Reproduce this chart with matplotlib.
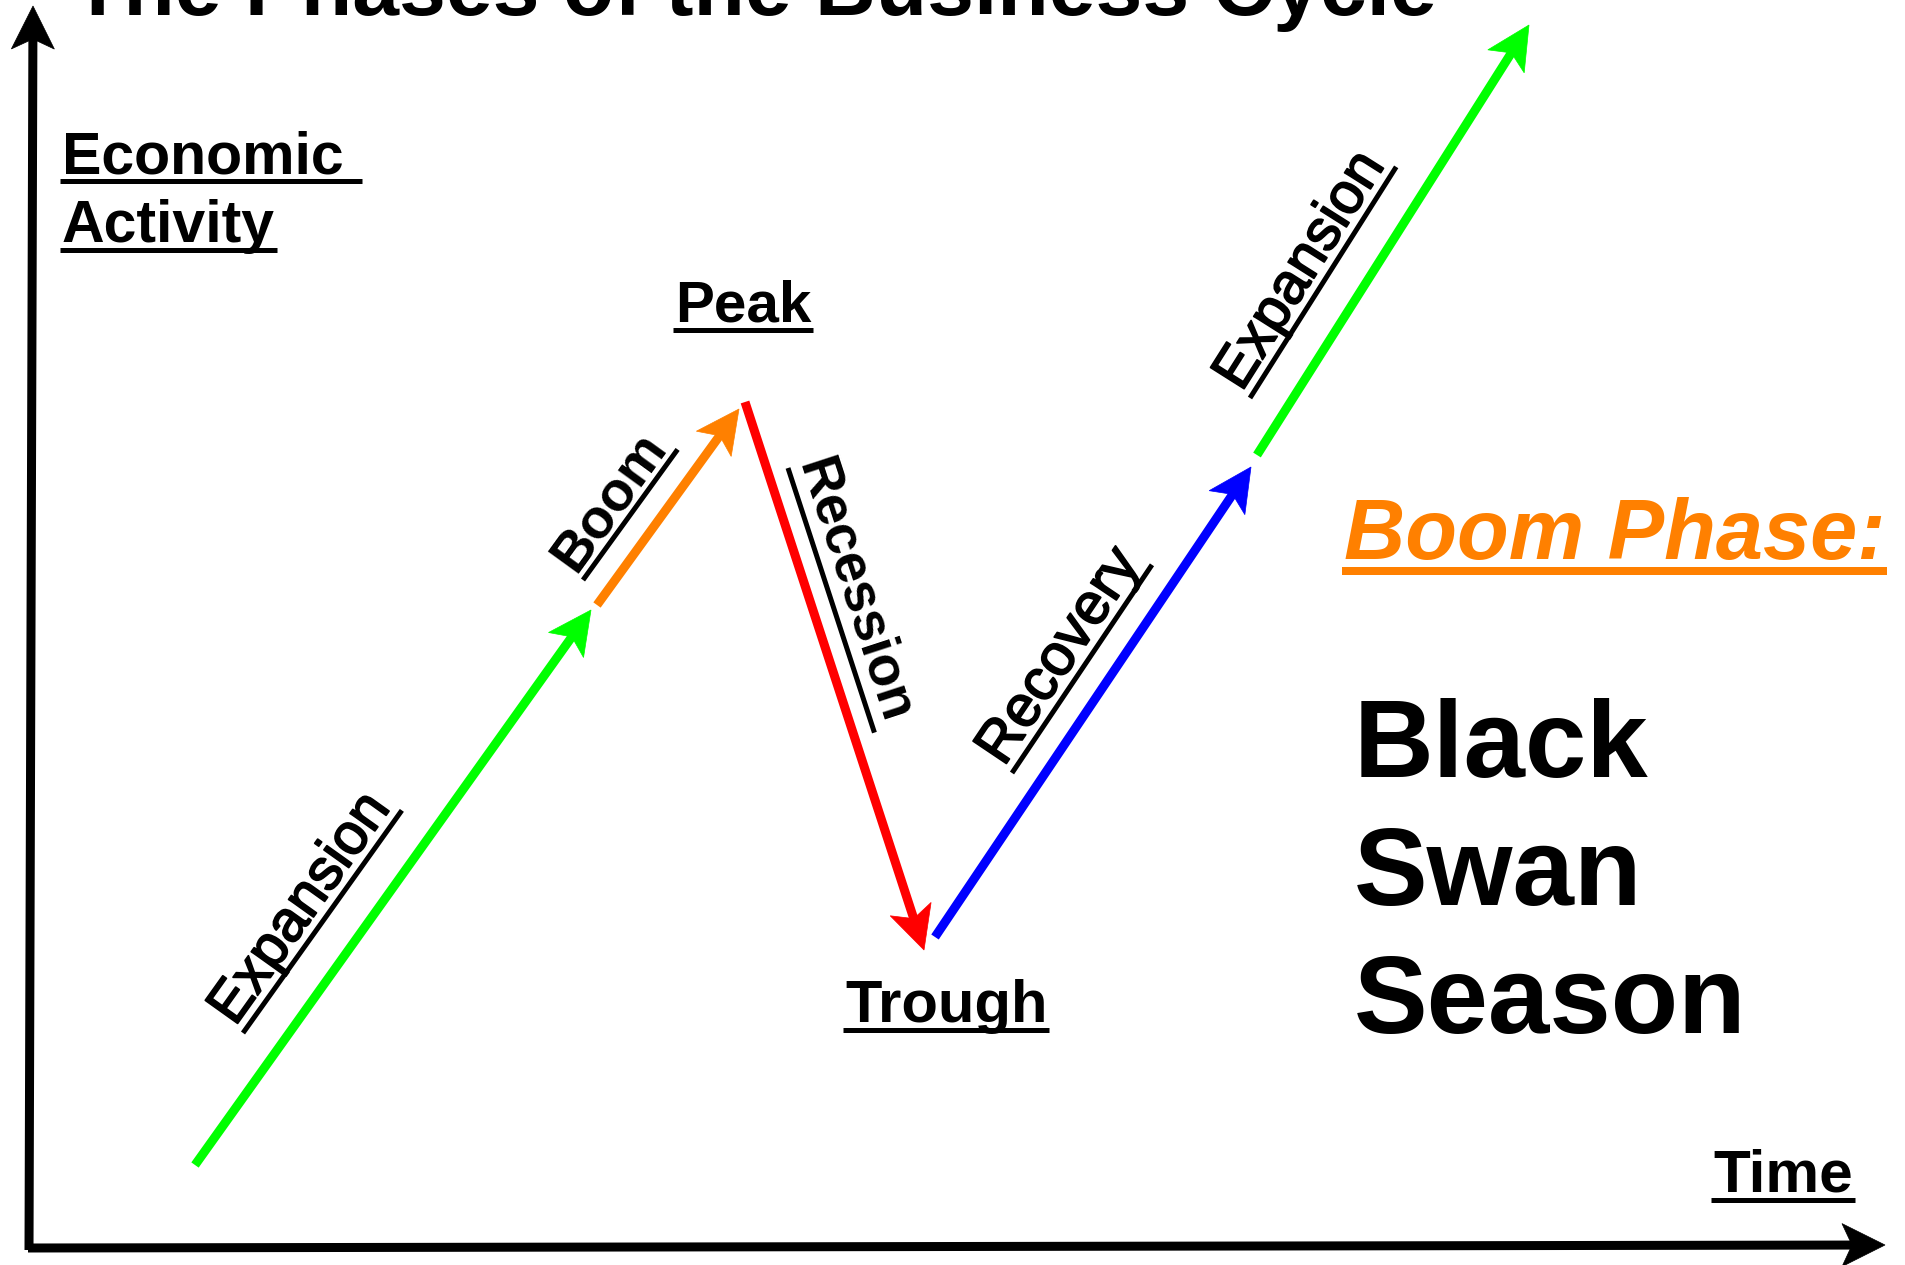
import numpy as np
import matplotlib
matplotlib.use("Agg")
import matplotlib.pyplot as plt
from matplotlib.patches import Polygon
import matplotlib.patheffects as pe

# ---------------- data ----------------
W, H = 1906, 1265

phase_names = ["Expansion", "Boom", "Recession", "Recovery", "Expansion"]
phase_colors = ["#00FF00", "#FF8000", "#FF0000", "#0000FF", "#00FF00"]
phase_x0 = [195, 597, 745, 935, 1257]
phase_y0 = [1165, 605, 402, 937, 455]
phase_x1 = [591, 739, 924, 1251, 1529]
phase_y1 = [610, 409, 950, 467, 25]

# label anchor (start of underline) for each phase
label_x = [243, 583, 788, 1012, 1250]
label_y = [1033, 580, 468, 773, 398]
label_weight = ["normal", "bold", "bold", "normal", "normal"]
label_size = [41.5, 40, 39.5, 42, 41.5]

axis_x0 = [29, 28]
axis_y0 = [1250, 1248]
axis_x1 = [33, 1885]
axis_y1 = [6, 1245]

title = "The Phases of the Business Cycle"
y_label = ["Economic ", "Activity"]
x_label = "Time"
peak_label = "Peak"
trough_label = "Trough"
phase_title = "Boom Phase:"
side_note = ["Black", "Swan", "Season"]

FONT = "Liberation Sans"
PX = 0.72  # points per pixel at dpi 100

fig = plt.figure(figsize=(W / 100, H / 100), dpi=100)
ax = fig.add_axes([0, 0, 1, 1])
ax.set_xlim(0, W)
ax.set_ylim(H, 0)
ax.axis("off")


def arrow(x0, y0, x1, y1, color, lw_px=9, L=43, Wh=43, notch=10):
    p0 = np.array([x0, y0], float)
    p1 = np.array([x1, y1], float)
    u = (p1 - p0) / np.linalg.norm(p1 - p0)
    v = np.array([-u[1], u[0]])
    notch_pt = p1 - (L - notch) * u
    ax.plot([p0[0], notch_pt[0] + u[0] * 2], [p0[1], notch_pt[1] + u[1] * 2],
            color=color, lw=lw_px * PX, solid_capstyle="butt", zorder=2)
    c1 = p1 - L * u + Wh / 2 * v
    c2 = p1 - L * u - Wh / 2 * v
    ax.add_patch(Polygon([p1, c1, notch_pt, c2], closed=True, facecolor=color,
                         edgecolor=color, lw=0.5, zorder=3))


# axes
for i in range(2):
    arrow(axis_x0[i], axis_y0[i], axis_x1[i], axis_y1[i], "black", lw_px=9)

# phases
for i in range(len(phase_names)):
    arrow(phase_x0[i], phase_y0[i], phase_x1[i], phase_y1[i], phase_colors[i], lw_px=9)

fig.canvas.draw()
renderer = fig.canvas.get_renderer()


def text_width(s, size, weight="bold", style="normal"):
    t = ax.text(0, 0, s, fontsize=size, fontweight=weight, fontstyle=style, family=FONT)
    w = t.get_window_extent(renderer).width
    t.remove()
    return w


def htext(x, y, s, size, weight="bold", style="normal", color="black",
          ul_off=8, ul_px=5):
    ax.text(x, y, s, fontsize=size, fontweight=weight, fontstyle=style, family=FONT,
            color=color, ha="left", va="baseline", zorder=4)
    if ul_px:
        w = text_width(s, size, weight, style)
        ax.plot([x - 2, x + w + 2], [y + ul_off, y + ul_off], color=color,
                lw=ul_px * PX, solid_capstyle="butt", zorder=4)


def rtext(ux, uy, s, angle, size, weight, off=10, ul_px=5):
    th = np.deg2rad(angle)
    d = np.array([np.cos(th), -np.sin(th)])
    down = np.array([np.sin(th), np.cos(th)])
    base = np.array([ux, uy]) - off * down
    w = text_width(s, size, weight)
    effects = None
    if weight == "normal":
        effects = [pe.withStroke(linewidth=1.3, foreground="black")]
    ax.text(base[0], base[1], s, fontsize=size, fontweight=weight, family=FONT,
            rotation=angle, rotation_mode="anchor", ha="left", va="baseline",
            zorder=4, path_effects=effects)
    end = np.array([ux, uy]) + (w + 4) * d
    ax.plot([ux, end[0]], [uy, end[1]], color="black", lw=ul_px * PX,
            solid_capstyle="butt", zorder=4)


# phase labels (rotated along each segment)
for i in range(len(phase_names)):
    dx = phase_x1[i] - phase_x0[i]
    dy = phase_y1[i] - phase_y0[i]
    ang = np.degrees(np.arctan2(-dy, dx))
    if ang < -90:
        ang += 180
    if ang > 90:
        ang -= 180
    rtext(label_x[i], label_y[i], phase_names[i], ang, label_size[i], label_weight[i])

# title (cropped at the top, as in the original)
ax.text(72, 15, title, fontsize=60.5, fontweight="bold", family=FONT,
        ha="left", va="baseline", zorder=4)

# axis labels
htext(62, 173, y_label[0], 42.5)
htext(62, 242, y_label[1], 42.5)
htext(1713, 1192, x_label, 43.5)

# peak / trough
htext(675, 322, peak_label, 42)
htext(845, 1022, trough_label, 43)

# boom phase
htext(1344, 559, phase_title, 61, weight="bold", style="italic", color="#FF8000",
      ul_off=12, ul_px=8)

# black swan season
for s, yb in zip(side_note, [777, 905, 1033]):
    ax.text(1354, yb, s, fontsize=79.5, fontweight="bold", family=FONT,
            ha="left", va="baseline", zorder=4)

fig.savefig("out.png", dpi=100, facecolor="white")
